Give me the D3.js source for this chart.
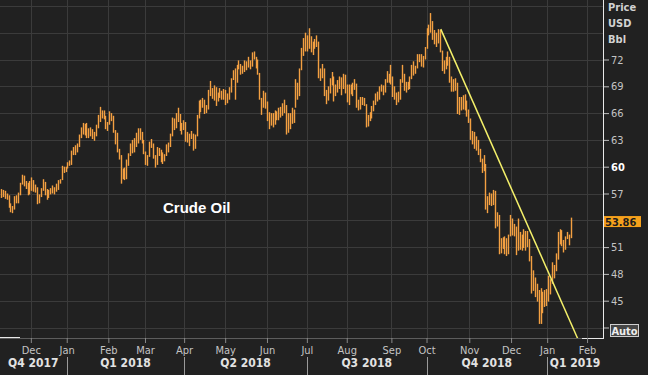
<!DOCTYPE html>
<html>
<head>
<meta charset="utf-8">
<script src="https://cdn.jsdelivr.net/npm/d3@7"></script>
<style>
  html, body { margin: 0; padding: 0; background: #212121; }
  svg { display: block; }
</style>
</head>
<body>
<svg id="chart" width="648" height="375"></svg>
<script>
// daily high / low bars, one per trading day (Nov 8 2017 .. Jan 18 2019)
const highs = [
  57.5,57.4,57.3,57.0,56.8,55.9,55.6,56.7,56.8,57.1,58.2,59.1,59.0,58.4,58.2,58.4, // Nov 17
  58.8,58.5,58.0,57.7,56.9,57.6,58.6,58.3,57.5,57.4,57.6,57.9,57.7,58.1,58.5,58.6,60.1,60.0,60.0,60.5, // Dec
  60.7,61.8,62.2,62.4,62.6,63.6,64.4,64.9,64.8,64.9,64.3,64.4,64.2,63.9,64.7,65.8,66.7,66.3,66.3,65.7,65.0, // Jan 18
  66.2,66.0,65.7,64.1,63.8,62.0,61.3,59.8,59.9,60.8,61.5,62.6,63.0,63.2,63.8,64.3,64.3,63.9,63.0, // Feb
  61.7,61.3,62.8,63.1,62.6,61.3,62.2,62.1,61.9,61.6,61.4,62.5,62.7,63.7,65.5,65.4,66.0,66.6,65.9,64.9,65.2, // Mar
  65.0,63.9,63.7,64.0,63.7,63.6,65.8,67.4,67.5,67.7,67.5,66.9,68.6,69.6,68.8,69.1,68.9,68.3,68.8,68.5,68.7, // Apr
  68.6,68.2,68.9,69.9,70.8,71.0,71.4,71.9,71.5,71.3,71.9,71.8,72.3,71.9,72.8,72.9,72.3,72.0,70.5,67.7,68.5,68.3, // May
  67.3,66.1,66.0,66.0,66.3,66.2,66.6,66.7,67.1,67.5,66.9,66.0,66.0,66.6,66.4,69.8,69.4,71.0,73.3,74.4,75.0, // Jun
  74.7,75.5,74.6,74.0,74.3,74.7,74.0,71.0,71.5,71.0,68.6,69.0,69.9,70.6,70.1,69.2,69.7,70.1,70.0,70.4,70.3, // Jul
  69.2,69.2,69.2,69.4,69.8,69.3,67.5,67.8,67.8,67.7,67.0,65.8,66.1,66.8,67.4,68.2,68.4,69.0,69.2,69.1,69.8,70.7,70.4, // Aug
  71.4,70.1,69.0,68.3,68.4,69.8,71.4,70.4,69.5,69.5,70.1,71.4,71.8,71.3,72.6,72.6,72.6,72.4,73.4, // Sep
  75.5,75.9,77.2,76.3,75.3,75.0,75.4,75.3,73.0,71.9,72.3,72.9,72.3,70.1,69.8,69.9,69.4,67.8,67.8,68.0,68.1,67.4,66.4, // Oct
  65.4,64.0,63.9,63.4,63.0,62.0,60.9,61.3,60.3,56.7,57.1,57.0,57.4,57.3,54.9,54.6,52.0,52.1,52.2,52.0,52.4, // Nov
  54.6,54.2,53.6,53.3,54.2,52.7,52.4,53.0,52.8,52.8,51.9,50.0,48.4,47.6,46.9,46.2,46.4,46.0,46.2,46.3, // Dec
  47.8,47.4,49.3,49.0,50.3,52.7,53.0,52.9,51.8,52.2,52.7,52.4,54.3 // Jan 19
];
const lows = [
  56.5,56.6,56.4,56.3,55.4,54.9,54.8,55.2,55.9,55.9,56.8,58.0,57.8,57.5,56.8,56.9,
  57.3,57.2,57.1,55.8,55.9,56.6,57.3,56.8,56.3,56.5,56.9,57.0,56.9,57.2,57.4,58.1,58.5,59.3,59.4,59.8,
  60.1,60.2,61.3,61.3,61.6,62.2,63.2,63.6,63.5,63.2,63.2,63.4,63.1,62.9,63.4,64.3,65.0,65.4,65.3,64.2,64.0,
  64.7,65.1,63.8,62.5,61.6,60.8,58.1,58.6,58.5,58.6,60.1,61.2,61.5,61.6,62.2,62.6,63.0,62.6,61.4,
  60.2,60.1,61.1,62.1,60.9,59.9,60.2,61.2,60.5,60.3,60.6,61.2,61.6,62.2,63.4,64.1,64.3,65.0,64.0,63.6,64.1,
  62.8,62.7,62.3,63.1,61.8,62.0,63.4,65.4,66.1,66.6,65.9,66.0,66.4,67.9,67.6,67.4,66.8,67.3,67.7,67.5,67.5,
  66.9,67.1,67.5,68.3,69.7,67.5,69.4,70.9,70.3,70.4,70.6,70.8,71.1,70.9,71.2,72.0,71.0,70.3,67.5,65.8,66.6,66.5,
  65.1,64.2,64.6,64.4,64.7,65.2,65.2,65.5,65.7,66.0,63.6,63.8,64.2,64.8,64.9,66.6,67.5,67.9,70.8,72.4,72.9,
  72.9,73.2,72.8,72.5,73.2,73.4,69.9,69.6,69.9,67.9,67.0,67.4,68.2,69.1,67.3,67.9,68.3,68.7,68.0,68.7,68.2,
  67.2,66.9,68.1,67.9,68.6,66.6,66.3,66.4,66.9,66.8,64.4,64.5,65.1,65.4,66.2,66.9,67.3,67.5,68.4,68.0,68.3,69.4,69.4,
  69.2,67.8,67.5,66.9,67.2,67.5,69.4,68.5,68.3,68.6,68.7,69.8,70.2,70.4,71.0,71.7,71.2,71.1,72.0,
  73.2,74.7,75.0,74.2,73.7,73.4,73.8,72.8,70.7,70.4,70.9,71.3,69.4,68.4,68.4,68.5,65.9,65.8,66.3,66.4,66.3,65.6,64.9,
  63.0,62.5,62.0,61.8,61.3,60.5,59.3,59.5,55.2,54.8,55.7,55.6,55.7,53.1,53.3,50.2,50.3,50.8,50.2,50.0,50.2,
  52.2,52.3,52.2,50.1,50.6,50.7,50.6,50.9,50.6,51.0,49.4,45.8,46.1,45.4,44.9,42.4,42.4,43.6,44.3,44.4,
  44.9,45.7,46.9,47.5,48.3,49.6,51.3,51.1,50.4,50.7,51.9,51.2,52.0
];

// month boundaries, in bar index units
const monthLabels = ['Dec','Jan','Feb','Mar','Apr','May','Jun','Jul','Aug','Sep','Oct','Nov','Dec','Jan','Feb'];
const monthTicks = [15.7, 34.6, 56.5, 75.8, 96.4, 118, 140, 161, 182, 205.5, 224, 246.5, 268.5, 287.5, 308.5];
const quarterLabels = ['Q4 2017','Q1 2018','Q2 2018','Q3 2018','Q4 2018','Q1 2019'];
const quarterBreaks = [34.6, 96.4, 161, 224, 287.5];

const priceTicks = [42, 45, 48, 51, 57, 60, 63, 66, 69, 72];
const gridValues = [42, 45, 48, 51, 54, 57, 60, 63, 66, 69, 72, 75, 78];
const lastPrice = 53.86;
const trendLine = [[231.5, 75.4], [303.5, 40.8]];

const width = 648, height = 375;
const plotRight = 603, plotBottom = 338;
const axisFont = '"DejaVu Sans Condensed", "DejaVu Sans", Tahoma, sans-serif';

const svg = d3.select('#chart');
svg.append('rect').attr('width', width).attr('height', height).attr('fill', '#212121');

const x = d3.scaleLinear().domain([0, 309]).range([1, 588]);
const y = d3.scaleLinear().domain([45, 72]).range([300.7, 59.5]);

// clip for plot area
svg.append('clipPath').attr('id', 'plotClip')
  .append('rect').attr('x', 0).attr('y', 0).attr('width', plotRight).attr('height', plotBottom);

// horizontal grid
const hGrid = svg.append('g')
  .attr('transform', `translate(${plotRight},0)`)
  .call(d3.axisLeft(y).tickValues(gridValues).tickSize(plotRight).tickFormat(''));
hGrid.select('.domain').remove();
hGrid.selectAll('line').attr('stroke', '#3b3b3b').attr('shape-rendering', 'crispEdges');

// vertical grid at month starts
const vGrid = svg.append('g')
  .attr('transform', `translate(0,${plotBottom})`)
  .call(d3.axisBottom(x).tickValues(monthTicks).tickSize(-plotBottom).tickFormat(''));
vGrid.select('.domain').remove();
vGrid.selectAll('line').attr('stroke', '#3b3b3b').attr('shape-rendering', 'crispEdges');

// high-low bars, centred on whole pixels
svg.append('g')
  .attr('clip-path', 'url(#plotClip)')
  .selectAll('line')
  .data(highs)
  .join('line')
  .attr('x1', (d, i) => Math.round(x(i)) + 0.5)
  .attr('x2', (d, i) => Math.round(x(i)) + 0.5)
  .attr('y1', d => y(d))
  .attr('y2', (d, i) => y(lows[i]))
  .attr('stroke', '#f3a042')
  .attr('stroke-width', 1.4);

// trend line
svg.append('line')
  .attr('clip-path', 'url(#plotClip)')
  .attr('x1', x(trendLine[0][0])).attr('y1', y(trendLine[0][1]))
  .attr('x2', x(trendLine[1][0])).attr('y2', y(trendLine[1][1]))
  .attr('stroke', '#f4f06a')
  .attr('stroke-width', 1.5);

// frame
svg.append('line').attr('x1', 0).attr('x2', plotRight).attr('y1', plotBottom + 0.5).attr('y2', plotBottom + 0.5)
  .attr('stroke', '#5c5c5c');
svg.append('line').attr('x1', 0).attr('x2', 20).attr('y1', plotBottom - 0.5).attr('y2', plotBottom - 0.5)
  .attr('stroke', '#e8e8e8');
svg.append('line').attr('x1', 582).attr('x2', plotRight).attr('y1', plotBottom + 0.5).attr('y2', plotBottom + 0.5)
  .attr('stroke', '#e8e8e8');
svg.append('line').attr('x1', plotRight + 0.5).attr('x2', plotRight + 0.5).attr('y1', 0).attr('y2', plotBottom + 1)
  .attr('stroke', '#e8e8e8');

// right price axis
const yAxis = svg.append('g')
  .attr('transform', `translate(${plotRight + 1},0)`)
  .call(d3.axisRight(y).tickValues(priceTicks).tickSize(5).tickPadding(2)
    .tickFormat(d => d === 42 ? '' : d));
yAxis.select('.domain').remove();
yAxis.selectAll('line').attr('stroke', '#bdbdbd');
yAxis.selectAll('text')
  .attr('fill', d => d === 60 ? '#ffffff' : '#c4c4c4')
  .attr('font-weight', d => d === 60 ? 'bold' : 'normal')
  .style('font-family', axisFont)
  .style('font-size', '11px');

// unit labels
['Price', 'USD', 'Bbl'].forEach((t, i) => {
  svg.append('text')
    .attr('x', 608).attr('y', 11 + i * 16)
    .attr('fill', '#d2d2d2')
    .attr('font-weight', 'bold')
    .style('font-family', axisFont)
    .style('font-size', '11px')
    .text(t);
});

// last price box
const py = y(lastPrice);
svg.append('rect').attr('x', plotRight + 1).attr('y', py - 5.5).attr('width', 37).attr('height', 11)
  .attr('fill', '#f6a11c');
svg.append('text')
  .attr('x', plotRight + 2).attr('y', py + 4)
  .attr('fill', '#1c1c1c').attr('font-weight', 'bold')
  .style('font-family', axisFont).style('font-size', '11px')
  .text(lastPrice.toFixed(2));

// Auto button
svg.append('rect').attr('x', 610.5).attr('y', 324.5).attr('width', 28).attr('height', 12)
  .attr('fill', '#464646').attr('stroke', '#cfcfcf');
svg.append('text')
  .attr('x', 624.5).attr('y', 334.5).attr('text-anchor', 'middle')
  .attr('fill', '#eeeeee').attr('font-weight', 'bold')
  .style('font-family', axisFont).style('font-size', '11px')
  .text('Auto');

// month axis
const xAxis = svg.append('g')
  .attr('transform', `translate(0,${plotBottom})`)
  .call(d3.axisBottom(x).tickValues(monthTicks).tickSize(5).tickPadding(3)
    .tickFormat((d, i) => monthLabels[i]));
xAxis.select('.domain').remove();
xAxis.selectAll('line').attr('stroke', '#8a8a8a');
xAxis.selectAll('text')
  .attr('fill', '#c4c4c4')
  .style('font-family', axisFont)
  .style('font-size', '11px');

// quarter row
svg.append('g').selectAll('line')
  .data(quarterBreaks)
  .join('line')
  .attr('x1', d => Math.round(x(d)) + 0.5).attr('x2', d => Math.round(x(d)) + 0.5)
  .attr('y1', 357).attr('y2', height)
  .attr('stroke', '#9a9a9a');

const qEdges = [0, ...quarterBreaks.map(d => x(d)), plotRight];
svg.append('g').selectAll('text')
  .data(quarterLabels)
  .join('text')
  .attr('x', (d, i) => (qEdges[i] + qEdges[i + 1]) / 2)
  .attr('y', 367)
  .attr('text-anchor', 'middle')
  .attr('fill', '#e2e2e2')
  .attr('font-weight', 'bold')
  .style('font-family', axisFont)
  .style('font-size', '12px')
  .text(d => d);

// chart title inside plot
svg.append('text')
  .attr('x', 163).attr('y', 213)
  .attr('fill', '#ffffff')
  .attr('font-weight', 'bold')
  .style('font-family', '"Liberation Sans", Arial, sans-serif')
  .style('font-size', '15px')
  .text('Crude Oil');
</script>
</body>
</html>
